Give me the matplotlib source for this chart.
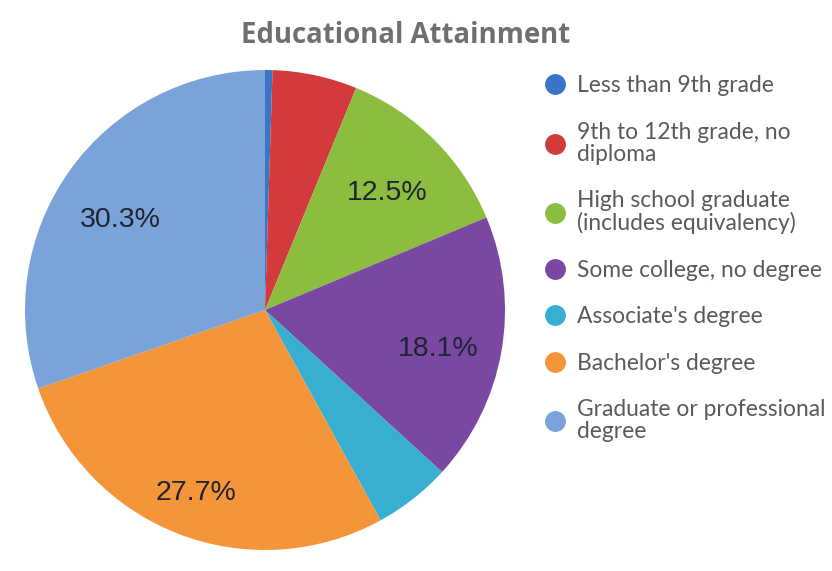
import numpy as np
import matplotlib.pyplot as plt
from matplotlib.lines import Line2D

# education levels, share of population (%)
categories = [
    "Less than 9th grade",
    "9th to 12th grade, no\ndiploma",
    "High school graduate\n(includes equivalency)",
    "Some college, no degree",
    "Associate's degree",
    "Bachelor's degree",
    "Graduate or professional\ndegree",
]
shares = [0.5, 5.7, 12.5, 18.1, 5.2, 27.7, 30.3]
colors = ["#3a74c4", "#d23a3c", "#8dbd3f", "#7a47a3", "#38afd0", "#f5953a", "#7aa3d9"]

# where the % label sits in each slice: (radius, clockwise nudge in degrees)
label_pos = [None, None, (0.705, 1.4), (0.74, 2.8), None, (0.815, -0.3), (0.71, -3.7)]

fig = plt.figure(figsize=(8.32, 5.71), dpi=100)
fig.patch.set_facecolor("white")

fig.text(0.487, 0.937, "Educational Attainment", ha="center", va="center",
         fontsize=19.8, fontweight="bold", color="#6f6f6f", family="Open Sans")

ax = fig.add_axes([25 / 832, 21 / 571, 480 / 832, 480 / 571])
wedges, texts = ax.pie(shares, colors=colors, startangle=90, counterclock=False,
                       wedgeprops=dict(linewidth=0))
ax.set_xlim(-1, 1)
ax.set_ylim(-1, 1)
ax.set_aspect("equal")
ax.axis("off")

# percentage labels inside the larger slices
total = sum(shares)
start = 90.0
for share, pos in zip(shares, label_pos):
    span = 360.0 * share / total
    mid = start - span / 2
    start -= span
    if pos is not None:
        r, nudge = pos
        a = np.deg2rad(mid - nudge)
        ax.text(r * np.cos(a), r * np.sin(a), f"{share:.1f}%",
                ha="center", va="center", fontsize=20.5, color="#1e2530",
                family="Liberation Sans")

handles = [Line2D([0], [0], marker="o", linestyle="", markersize=14,
                  markerfacecolor=c, markeredgecolor=c) for c in colors]
leg = fig.legend(handles, categories, loc="upper left",
                 bbox_to_anchor=(0.655, 0.868), frameon=False,
                 prop={"family": "Lato", "size": 16.4},
                 labelspacing=1.12, handletextpad=0.5, handlelength=0.9,
                 borderpad=0, borderaxespad=0)
for t in leg.get_texts():
    t.set_color("#5a5a5a")
    t.set_linespacing(1.05)

fig.savefig("out.png", dpi=100)
